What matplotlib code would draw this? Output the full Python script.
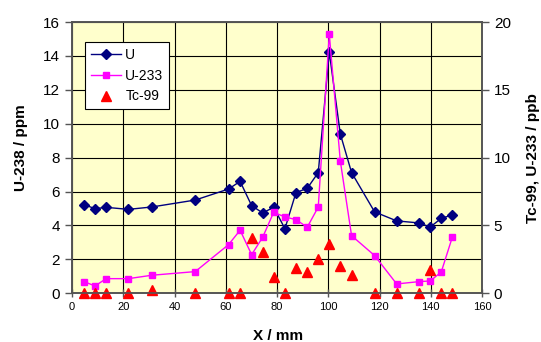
import numpy as np
import matplotlib.pyplot as plt

plt.rcParams['font.family'] = ['Liberation Sans', 'DejaVu Sans']

# positions along the sample [mm]
x_mm = [4.7, 9.0, 13.3, 22.0, 31.1, 48.1, 61.1, 65.6, 70.1, 74.4, 78.7, 83.1,
        87.4, 91.8, 96.1, 100.4, 104.7, 109.1, 118.1, 126.7, 135.4, 139.8, 144.1, 148.4]
# U-238 [ppm], left axis
u238 = [5.23, 4.99, 5.07, 4.95, 5.09, 5.5, 6.15, 6.6, 5.17, 4.74, 5.07, 3.81,
        5.94, 6.19, 7.12, 14.22, 9.4, 7.12, 4.8, 4.27, 4.15, 3.91, 4.42, 4.62]
# U-233 [ppb], right axis
u233 = [0.86, 0.54, 1.08, 1.08, 1.33, 1.6, 3.59, 4.65, 2.85, 4.13, 5.97, 5.63,
        5.43, 4.87, 6.36, 19.1, 9.76, 4.25, 2.78, 0.69, 0.86, 0.91, 1.57, 4.13]
# Tc-99 [ppb], right axis
tc99 = [0, 0, 0, 0, 0.25, 0, 0, 0, 4.1, 3.02, 1.22, 0,
        1.84, 1.55, 2.53, 3.64, 2.04, 1.35, 0, 0, 0, 1.72, 0, 0]

fig = plt.figure(figsize=(5.41, 3.42), dpi=100)
ax = fig.add_axes([72 / 541, 1 - 293.3 / 342, 410 / 541, 271.3 / 342])
ax2 = ax.twinx()

ax.set_facecolor('#FFFFCC')
ax.set_zorder(ax2.get_zorder() - 1)
ax2.patch.set_visible(False)

ax.set_xlim(0, 160)
ax.set_ylim(0, 16)
ax2.set_ylim(0, 20)
ax.set_xticks(np.arange(0, 161, 20))
ax.set_yticks(np.arange(0, 17, 2))
ax2.set_yticks(np.arange(0, 21, 5))
ax.grid(True, color='black', linewidth=0.8)
ax.set_axisbelow(True)

# U is drawn on the right axes too (scaled to it) so all marks share one layer
l1, = ax2.plot(x_mm, [v * 20 / 16 for v in u238], color='#000080', marker='D',
               markersize=5.5, linewidth=1, label='U', clip_on=False)
l2, = ax2.plot(x_mm, u233, color='#FF00FF', marker='s', markersize=4.5,
               linewidth=1, label='U-233', clip_on=False)
l3, = ax2.plot(x_mm, tc99, color='#FF0000', marker='^', markersize=6.5,
               linestyle='none', label='Tc-99', clip_on=False)

for a in (ax, ax2):
    for s in a.spines.values():
        s.set_color('#555555')
        s.set_linewidth(1.2)

ax.tick_params(axis='y', direction='out', length=5, labelsize=11, width=1, color='#555555')
ax2.tick_params(axis='y', direction='out', length=5, labelsize=11, width=1, color='#555555')
ax.tick_params(axis='x', direction='inout', length=6, labelsize=8, width=1, color='#555555')

ax.set_xlabel('X / mm', fontsize=11, fontweight='bold')
ax.xaxis.set_label_coords(0.502, -0.13)
ax.set_ylabel('U-238 / ppm', fontsize=11, fontweight='bold')
ax.yaxis.set_label_coords(-0.108, 0.537)
ax2.set_ylabel('Tc-99, U-233 / ppb', fontsize=11, fontweight='bold')
ax2.yaxis.set_label_coords(1.108, 0.5)

leg = ax2.legend(handles=[l1, l2, l3], loc='upper left',
                 bbox_to_anchor=(13 / 410, 1 - 20 / 271.3), fontsize=10,
                 frameon=True, fancybox=False, framealpha=1, edgecolor='black',
                 handlelength=2.2, handletextpad=0.3, borderpad=0.4,
                 labelspacing=0.5, borderaxespad=0)
leg.get_frame().set_linewidth(0.8)

fig.savefig('out.png', dpi=100)
